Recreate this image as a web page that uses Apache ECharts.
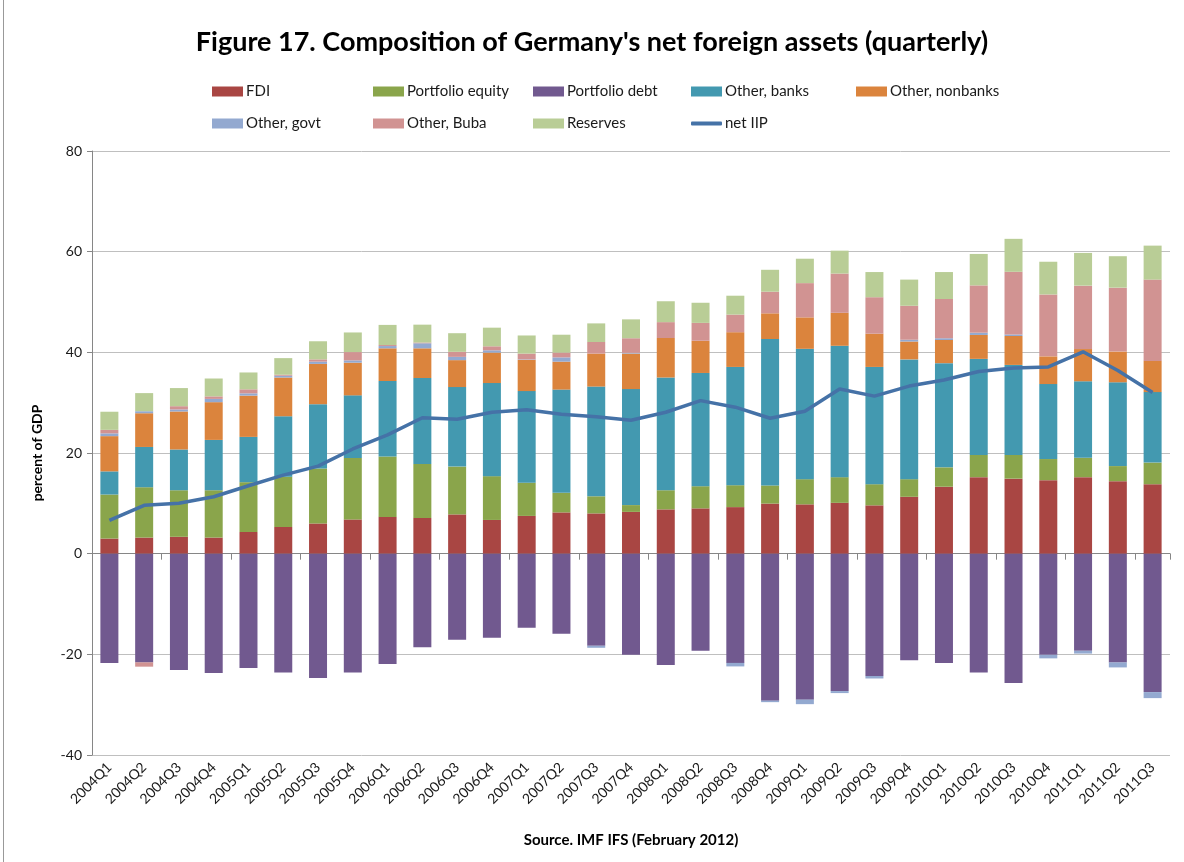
<!DOCTYPE html>
<html>
<head>
<meta charset="utf-8">
<script src="https://cdn.jsdelivr.net/npm/echarts@6/dist/echarts.min.js"></script>
<style>
html,body{margin:0;padding:0;background:#fff;}
#chart{width:1184px;height:862px;}
</style>
</head>
<body>
<div id="chart"></div>
<script>
const categories = ['2004Q1','2004Q2','2004Q3','2004Q4','2005Q1','2005Q2','2005Q3','2005Q4','2006Q1','2006Q2','2006Q3','2006Q4','2007Q1','2007Q2','2007Q3','2007Q4','2008Q1','2008Q2','2008Q3','2008Q4','2009Q1','2009Q2','2009Q3','2009Q4','2010Q1','2010Q2','2010Q3','2010Q4','2011Q1','2011Q2','2011Q3'];
const fdi = [3.0,3.2,3.35,3.2,4.3,5.3,6.0,6.8,7.3,7.1,7.8,6.7,7.5,8.2,8.0,8.3,8.8,9.0,9.25,9.95,9.8,10.1,9.6,11.3,13.3,15.2,14.9,14.6,15.2,14.4,13.8];
const portfolioEquity = [8.75,10.0,9.25,9.4,9.9,10.0,10.9,12.2,12.0,10.7,9.5,8.7,6.6,3.9,3.4,1.35,3.8,4.4,4.35,3.6,5.0,5.1,4.2,3.5,3.85,4.4,4.7,4.2,3.85,3.0,4.3];
const portfolioDebt = [-21.7,-21.6,-23.1,-23.7,-22.7,-23.6,-24.7,-23.6,-21.9,-18.6,-17.1,-16.7,-14.7,-15.9,-18.3,-20.1,-22.1,-19.3,-21.7,-29.2,-29.0,-27.3,-24.3,-21.2,-21.7,-23.6,-25.7,-20.1,-19.3,-21.6,-27.5];
const otherBanks = [4.6,8.0,8.1,10.0,9.0,12.0,12.8,12.45,15.0,17.1,15.8,18.5,18.2,20.5,21.8,23.05,22.4,22.5,23.5,29.1,25.9,26.1,23.3,23.8,20.7,19.1,17.9,14.9,15.2,16.65,14.0];
const otherNonbanks = [7.0,6.7,7.55,7.5,8.2,7.7,8.0,6.5,6.5,5.9,5.35,6.05,6.2,5.55,6.55,7.05,7.85,6.4,6.9,5.1,6.25,6.55,6.6,3.55,4.6,4.75,5.75,5.5,6.4,6.1,6.2];
const otherGovt = [0.55,0.4,0.4,0.65,0.45,0.35,0.45,0.45,0.45,1.0,0.65,0.45,0.1,0.85,-0.4,0.15,0,0,-0.7,-0.3,-0.9,-0.4,-0.5,0.35,0.35,0.45,0.3,-0.7,-0.55,-1.0,-1.2];
const otherBuba = [0.7,-0.85,0.65,0.5,0.8,0.2,0.45,1.65,0.2,0.15,1.0,0.8,1.15,0.95,2.3,2.9,3.15,3.55,3.5,4.3,6.8,7.8,7.25,6.75,7.8,9.4,12.45,12.3,12.6,12.7,16.15];
const reserves = [3.6,3.6,3.6,3.55,3.35,3.3,3.6,3.9,4.0,3.55,3.7,3.7,3.6,3.55,3.7,3.75,4.15,4.0,3.75,4.35,4.85,4.55,5.0,5.2,5.35,6.25,6.55,6.5,6.5,6.25,6.75];
const netIIP = [6.6,9.6,10.0,11.3,13.5,15.6,17.4,20.8,23.6,27.0,26.7,28.1,28.6,27.7,27.2,26.5,28.1,30.4,29.1,26.9,28.3,32.7,31.3,33.3,34.5,36.2,36.9,37.1,40.1,36.4,32.0];
const yTicks = {min:-40, max:80, interval:20};

const FONT = 'Lato, "Open Sans", sans-serif';
const barDefs = [
  ['FDI', fdi, '#A94643'],
  ['Portfolio equity', portfolioEquity, '#8AA54B'],
  ['Portfolio debt', portfolioDebt, '#71598F'],
  ['Other, banks', otherBanks, '#4399B0'],
  ['Other, nonbanks', otherNonbanks, '#DB843D'],
  ['Other, govt', otherGovt, '#93A9D0'],
  ['Other, Buba', otherBuba, '#D19392'],
  ['Reserves', reserves, '#B9CD96']
];
const series = barDefs.map(d => ({
  name: d[0], type: 'bar', stack: 'total', data: d[1], barWidth: 18,
  xAxisIndex: 0, itemStyle: {color: d[2]}, emphasis: {disabled: true}
}));
series.push({
  name: 'net IIP', type: 'line', data: netIIP, xAxisIndex: 0, symbol: 'none', z: 10,
  lineStyle: {color: '#4572A7', width: 3.5}, itemStyle: {color: '#4572A7'}
});

const legendPos = [
  ['FDI', 207, 79], ['Portfolio equity', 368, 79], ['Portfolio debt', 528, 79], ['Other, banks', 686, 79], ['Other, nonbanks', 851, 79],
  ['Other, govt', 207, 111], ['Other, Buba', 368, 111], ['Reserves', 528, 111], ['net IIP', 686, 111]
];
const legends = legendPos.map(p => {
  const lg = {
    data: [p[0]], left: p[1], top: p[2],
    itemWidth: 31, itemHeight: 10, itemGap: 4, icon: 'rect',
    textStyle: {fontFamily: FONT, fontSize: 15, color: '#1a1a1a', padding: [0,0,0,-2]},
    selectedMode: false
  };
  if (p[0] === 'net IIP') {
    lg.icon = 'roundRect';
    lg.itemHeight = 4;
  }
  return lg;
});

const chart = echarts.init(document.getElementById('chart'), null, {renderer: 'canvas'});
chart.setOption({
  animation: false,
  backgroundColor: '#fff',
  title: {
    text: "Figure 17. Composition of Germany's net foreign assets (quarterly)",
    left: 'center', top: 24,
    textStyle: {fontFamily: FONT, fontSize: 27, fontWeight: 'bold', color: '#000'}
  },
  legend: legends,
  grid: {left: 92, right: 14, top: 151, bottom: 107, containLabel: false},
  xAxis: [
    {
      type: 'category', data: categories, position: 'bottom',
      axisLine: {show: false, onZero: false}, axisTick: {show: false},
      axisLabel: {rotate: 45, fontFamily: FONT, fontSize: 14, color: '#1a1a1a', margin: 10},
      name: 'Source. IMF IFS (February 2012)', nameLocation: 'middle', nameGap: 78,
      nameTextStyle: {fontFamily: FONT, fontSize: 15, fontWeight: 'bold', color: '#000'}
    },
    {
      type: 'category', data: categories, position: 'bottom',
      axisLine: {show: true, onZero: true, lineStyle: {color: '#868686', width: 1}},
      axisTick: {show: true, length: 6, lineStyle: {color: '#868686'}},
      axisLabel: {show: false}
    }
  ],
  yAxis: {
    type: 'value', min: yTicks.min, max: yTicks.max, interval: yTicks.interval,
    axisLine: {show: true, lineStyle: {color: '#868686'}},
    axisTick: {show: true, length: 5, lineStyle: {color: '#868686'}},
    splitLine: {lineStyle: {color: '#BFBFBF', width: 1}},
    axisLabel: {fontFamily: FONT, fontSize: 14, color: '#1a1a1a', margin: 10},
    name: 'percent of GDP', nameLocation: 'middle', nameRotate: 90, nameGap: 48,
    nameTextStyle: {fontFamily: FONT, fontSize: 14, fontWeight: 'bold', color: '#000'}
  },
  graphic: [
    {type: 'line', shape: {x1: 3.5, y1: 0, x2: 3.5, y2: 862}, style: {stroke: '#999', lineWidth: 1}, silent: true}
  ],
  series: series
});
</script>
</body>
</html>
